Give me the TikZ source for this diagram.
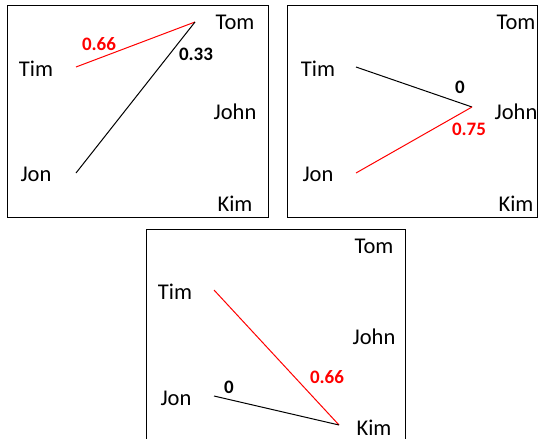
\documentclass[tikz,border=0pt]{standalone}
\usepackage{fontspec}
\setmainfont{Carlito}
\begin{document}
\begin{tikzpicture}[x=1pt,y=-1pt,
  panel/.style={draw=black,line width=1pt},
  person/.style={font=\fontsize{22.5}{25}\selectfont,inner sep=0pt},
  wt/.style={font=\fontsize{19}{22}\selectfont\bfseries,inner sep=0pt},
  link/.style={line width=1pt}]
\useasboundingbox (0,0) rectangle (542,439);
\clip (0,0) rectangle (542,439);
% panel 1
\draw[panel] (7,5) rectangle (268,217);
\node[person] (tom1) at (235,22) {Tom};
\node[person] (tim1) at (36,69) {Tim};
\node[person] (john1) at (235,112) {John};
\node[person] (jon1) at (36,174) {Jon};
\node[person] (kim1) at (235,204) {Kim};
\coordinate (a1) at (76,67);
\coordinate (b1) at (76,173);
\coordinate (c1) at (195,22);
\draw[link,red] (a1) -- (c1);
\draw[link] (b1) -- (c1);
\node[wt,red] (w11) at (99,44) {0.66};
\node[wt] (w12) at (196,54) {0.33};
% panel 2
\draw[panel] (287,5) rectangle (537,217);
\node[person] (tom2) at (516,22) {Tom};
\node[person] (tim2) at (318,69) {Tim};
\node[person] (john2) at (516,112) {John};
\node[person] (jon2) at (318,174) {Jon};
\node[person] (kim2) at (516,204) {Kim};
\coordinate (a2) at (356,67);
\coordinate (b2) at (356,173);
\coordinate (c2) at (472,107);
\draw[link] (a2) -- (c2);
\draw[link,red] (b2) -- (c2);
\node[wt] (w21) at (460,87) {0};
\node[wt,red] (w22) at (469,129) {0.75};
% panel 3
\draw[panel] (146,229) rectangle (405,450);
\node[person] (tom3) at (374,246) {Tom};
\node[person] (tim3) at (175,292) {Tim};
\node[person] (john3) at (374,337) {John};
\node[person] (jon3) at (176,398) {Jon};
\node[person] (kim3) at (374,428) {Kim};
\coordinate (a3) at (214,290);
\coordinate (b3) at (214,396);
\coordinate (c3) at (339,425);
\draw[link,red] (a3) -- (c3);
\draw[link] (b3) -- (c3);
\node[wt] (w31) at (229,387) {0};
\node[wt,red] (w32) at (327,377) {0.66};
\end{tikzpicture}
\end{document}
